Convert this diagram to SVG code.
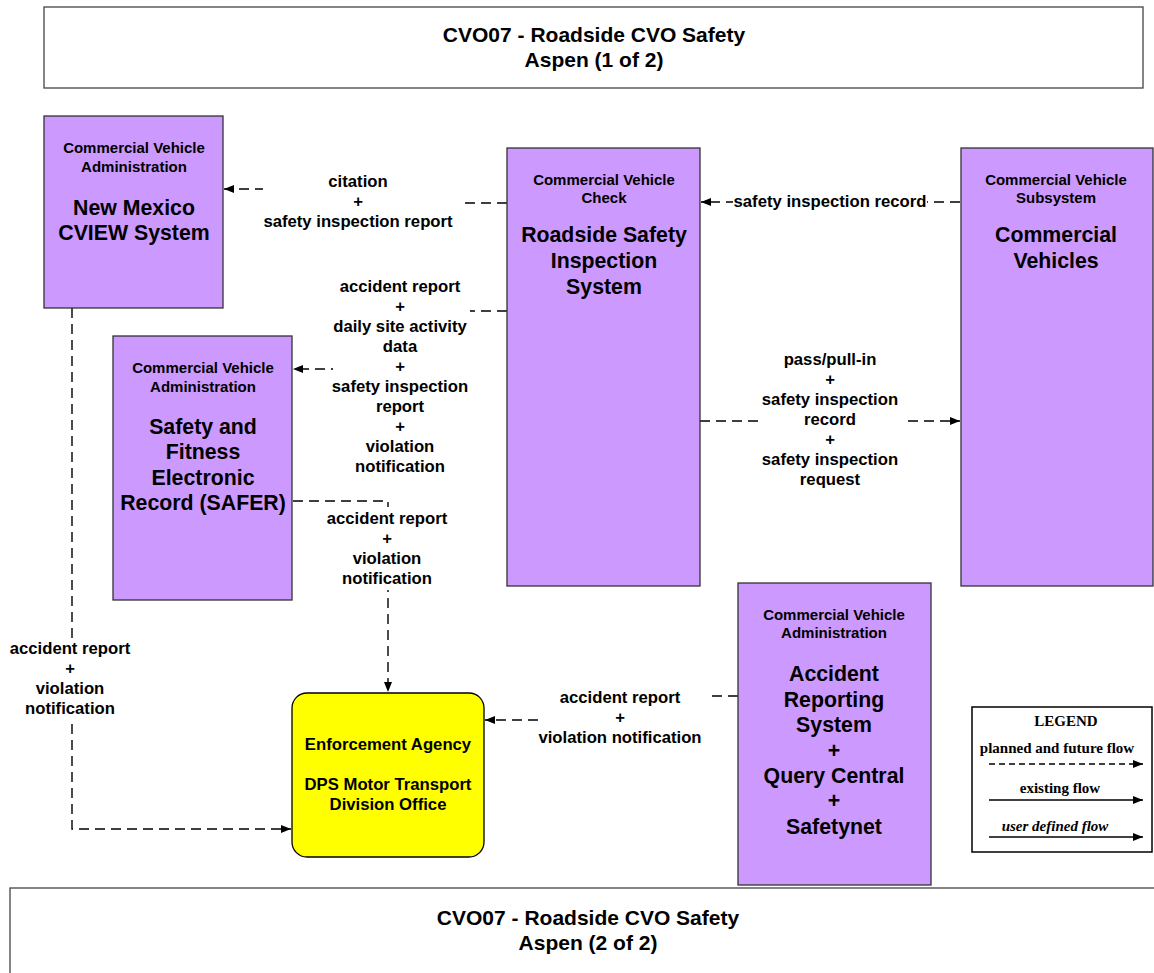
<svg xmlns="http://www.w3.org/2000/svg" width="1154" height="973" viewBox="0 0 1154 973">
<style>
text{font-family:"Liberation Sans",Arial,sans-serif;font-weight:bold;fill:#000;text-anchor:middle}
.title{font-size:21px}
.hdr{font-size:15px}
.big{font-size:21.3px}
.lbl{font-size:16.7px}
.ent{font-size:16.7px}
.node{fill:#CC99FF;stroke:#333;stroke-width:1.3}
.ea{fill:#FFFF00;stroke:#000;stroke-width:1.3}
.frame{fill:#fff;stroke:#444;stroke-width:1.3}
.flow{fill:none;stroke:#000;stroke-width:1.4;stroke-dasharray:10,6}
.bg{fill:#fff;stroke:none}
.leg{font-family:"Liberation Serif","Times New Roman",serif;font-size:15px}
</style>
<defs>
<marker id="ah" markerWidth="10" markerHeight="8" refX="10" refY="4" orient="auto" markerUnits="userSpaceOnUse">
<path d="M0,0 L10,4 L0,8 Z" fill="#000"/>
</marker>
</defs>
<rect width="1154" height="973" fill="#fff"/>

<g id="title-top">
<rect class="frame" x="44" y="7" width="1099" height="81"/>
<text class="title" x="594" y="42">CVO07 - Roadside CVO Safety</text>
<text class="title" x="594" y="67">Aspen (1 of 2)</text>
</g>
<g id="title-bottom">
<rect class="frame" x="10" y="888" width="1160" height="100"/>
<text class="title" x="588" y="925">CVO07 - Roadside CVO Safety</text>
<text class="title" x="588" y="950">Aspen (2 of 2)</text>
</g>

<g id="connectors">
<path class="flow" d="M507,203 H360 V189 H224" marker-end="url(#ah)"/>
<path class="flow" d="M507,311 H400 V369 H293" marker-end="url(#ah)"/>
<path class="flow" d="M960,202 H701" marker-end="url(#ah)"/>
<path class="flow" d="M700,421 H960" marker-end="url(#ah)"/>
<path class="flow" d="M293,501 H388 V692" marker-end="url(#ah)"/>
<path class="flow" d="M72,308 V829 H291" marker-end="url(#ah)"/>
<path class="flow" d="M738,696 H620 V720 H485" marker-end="url(#ah)"/>

<rect class="bg" x="263" y="170" width="197" height="64"/>
<text class="lbl" x="358" y="187">citation</text>
<text class="lbl" x="358" y="207">+</text>
<text class="lbl" x="358" y="227">safety inspection report</text>

<rect class="bg" x="333" y="276" width="137" height="202"/>
<text class="lbl" x="400" y="292">accident report</text>
<text class="lbl" x="400" y="312">+</text>
<text class="lbl" x="400" y="332">daily site activity</text>
<text class="lbl" x="400" y="352">data</text>
<text class="lbl" x="400" y="372">+</text>
<text class="lbl" x="400" y="392">safety inspection</text>
<text class="lbl" x="400" y="412">report</text>
<text class="lbl" x="400" y="432">+</text>
<text class="lbl" x="400" y="452">violation</text>
<text class="lbl" x="400" y="472">notification</text>

<rect class="bg" x="733" y="192" width="194" height="20"/>
<text class="lbl" x="830" y="207">safety inspection record</text>

<rect class="bg" x="760" y="350" width="142" height="140"/>
<text class="lbl" x="830" y="365">pass/pull-in</text>
<text class="lbl" x="830" y="385">+</text>
<text class="lbl" x="830" y="405">safety inspection</text>
<text class="lbl" x="830" y="425">record</text>
<text class="lbl" x="830" y="445">+</text>
<text class="lbl" x="830" y="465">safety inspection</text>
<text class="lbl" x="830" y="485">request</text>

<rect class="bg" x="323" y="507" width="132" height="83"/>
<text class="lbl" x="387" y="524">accident report</text>
<text class="lbl" x="387" y="544">+</text>
<text class="lbl" x="387" y="564">violation</text>
<text class="lbl" x="387" y="584">notification</text>

<rect class="bg" x="6" y="638" width="130" height="81"/>
<text class="lbl" x="70" y="654">accident report</text>
<text class="lbl" x="70" y="674">+</text>
<text class="lbl" x="70" y="694">violation</text>
<text class="lbl" x="70" y="714">notification</text>

<rect class="bg" x="538" y="684" width="170" height="66"/>
<text class="lbl" x="620" y="703">accident report</text>
<text class="lbl" x="620" y="723">+</text>
<text class="lbl" x="620" y="743">violation notification</text>
</g>

<g id="cview">
<rect class="node" x="44" y="116" width="179" height="192"/>
<text class="hdr" x="134" y="153">Commercial Vehicle</text>
<text class="hdr" x="134" y="172">Administration</text>
<text class="big" x="134" y="215">New Mexico</text>
<text class="big" x="134" y="240">CVIEW System</text>
</g>

<g id="rsis">
<rect class="node" x="507" y="148" width="193" height="438"/>
<text class="hdr" x="604" y="185">Commercial Vehicle</text>
<text class="hdr" x="604" y="203">Check</text>
<text class="big" x="604" y="242">Roadside Safety</text>
<text class="big" x="604" y="268">Inspection</text>
<text class="big" x="604" y="294">System</text>
</g>

<g id="cv">
<rect class="node" x="961" y="148" width="192" height="438"/>
<text class="hdr" x="1056" y="185">Commercial Vehicle</text>
<text class="hdr" x="1056" y="203">Subsystem</text>
<text class="big" x="1056" y="242">Commercial</text>
<text class="big" x="1056" y="268">Vehicles</text>
</g>

<g id="safer">
<rect class="node" x="113" y="336" width="179" height="264"/>
<text class="hdr" x="203" y="373">Commercial Vehicle</text>
<text class="hdr" x="203" y="392">Administration</text>
<text class="big" x="203" y="434">Safety and</text>
<text class="big" x="203" y="459">Fitness</text>
<text class="big" x="203" y="485">Electronic</text>
<text class="big" x="203" y="510">Record (SAFER)</text>
</g>

<g id="enforcement">
<rect class="ea" x="292" y="693" width="192" height="164" rx="15" ry="15"/>
<text class="ent" x="388" y="750">Enforcement Agency</text>
<text class="ent" x="388" y="790">DPS Motor Transport</text>
<text class="ent" x="388" y="810">Division Office</text>
</g>

<g id="accident">
<rect class="node" x="738" y="583" width="193" height="302"/>
<text class="hdr" x="834" y="620">Commercial Vehicle</text>
<text class="hdr" x="834" y="638">Administration</text>
<text class="big" x="834" y="681">Accident</text>
<text class="big" x="834" y="707">Reporting</text>
<text class="big" x="834" y="732">System</text>
<text class="big" x="834" y="758">+</text>
<text class="big" x="834" y="783">Query Central</text>
<text class="big" x="834" y="808">+</text>
<text class="big" x="834" y="834">Safetynet</text>
</g>

<g id="legend">
<rect x="972" y="707" width="180" height="145" fill="#fff" stroke="#000" stroke-width="1.5"/>
<text class="leg" x="1066" y="726">LEGEND</text>
<text class="leg" x="1057" y="753">planned and future flow</text>
<path d="M989,764 H1143" fill="none" stroke="#000" stroke-width="1.4" stroke-dasharray="6,4" marker-end="url(#ah)"/>
<text class="leg" x="1060" y="793">existing flow</text>
<path d="M989,800 H1143" fill="none" stroke="#000" stroke-width="1.4" marker-end="url(#ah)"/>
<text class="leg" x="1055" y="831" font-style="italic">user defined flow</text>
<path d="M989,837 H1143" fill="none" stroke="#000" stroke-width="1.4" marker-end="url(#ah)"/>
</g>
</svg>
